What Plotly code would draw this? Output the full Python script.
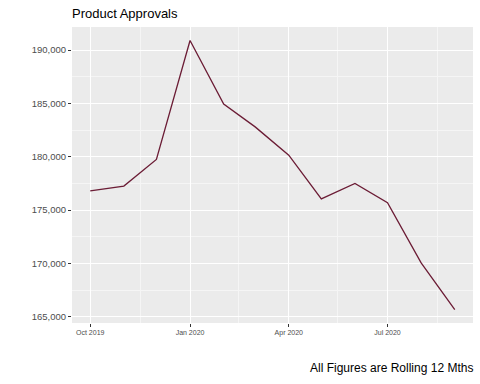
import plotly.graph_objects as go
import pandas as pd

months = ["2019-10-01", "2019-11-01", "2019-12-01", "2020-01-01", "2020-02-01", "2020-03-01",
          "2020-04-01", "2020-05-01", "2020-06-01", "2020-07-01", "2020-08-01", "2020-09-01"]
approvals = [176800, 177250, 179750, 190900, 184950, 182800,
             180150, 176050, 177500, 175700, 170050, 165680]

x_tick_vals = ["2019-10-01", "2020-01-01", "2020-04-01", "2020-07-01"]
x_tick_text = ["Oct 2019", "Jan 2020", "Apr 2020", "Jul 2020"]
y_tick_vals = [165000, 170000, 175000, 180000, 185000, 190000]

title_text = "Product Approvals"
caption_text = "All Figures are Rolling 12 Mths"

# derived
dates = pd.to_datetime(months)
xt = pd.to_datetime(x_tick_vals + ["2020-10-01"])
x_minor = [(xt[i] + (xt[i + 1] - xt[i]) / 2).strftime("%Y-%m-%d") for i in range(len(xt) - 1)]
y_minor = [(y_tick_vals[i] + y_tick_vals[i + 1]) / 2 for i in range(len(y_tick_vals) - 1)]

span_x = dates.max() - dates.min()
x_range = [dates.min() - span_x * 0.05, dates.max() + span_x * 0.05]
span_y = max(approvals) - min(approvals)
y_range = [min(approvals) - span_y * 0.05, max(approvals) + span_y * 0.05]

fig = go.Figure()
fig.add_trace(go.Scatter(x=dates, y=approvals, mode="lines",
                         line=dict(color="#6B1C35", width=1.3), showlegend=False))

fig.update_layout(
    width=480, height=384,
    margin=dict(l=72, r=7, t=27, b=61),
    paper_bgcolor="white", plot_bgcolor="#EBEBEB",
    font=dict(family="Liberation Sans, Arial, sans-serif"),
    annotations=[
        dict(text=title_text, xref="paper", yref="paper", x=0, y=1, yshift=4, xshift=-2,
             xanchor="left", yanchor="bottom", showarrow=False,
             font=dict(size=13, color="black")),
        dict(text=caption_text, xref="paper", yref="paper", x=1, y=0, yshift=-36, xshift=2,
             xanchor="right", yanchor="top", showarrow=False,
             font=dict(size=12, color="black")),
    ],
)
fig.update_xaxes(
    range=x_range, tickmode="array", tickvals=x_tick_vals, ticktext=x_tick_text,
    showgrid=True, gridcolor="white", gridwidth=1.1,
    ticks="outside", ticklen=3, tickcolor="#333333", tickwidth=1,
    tickfont=dict(size=7, color="#4D4D4D"),
    minor=dict(tickmode="array", tickvals=x_minor, showgrid=True, gridcolor="#F5F5F5",
               gridwidth=0.6, ticks=""),
    zeroline=False, showline=False,
)
fig.update_yaxes(
    range=y_range, tickmode="array", tickvals=y_tick_vals, tickformat=",d",
    showgrid=True, gridcolor="white", gridwidth=1.1,
    ticks="outside", ticklen=3, tickcolor="#333333", tickwidth=1,
    tickfont=dict(size=9.5, color="#4D4D4D"),
    minor=dict(tickmode="array", tickvals=y_minor, showgrid=True, gridcolor="#F5F5F5",
               gridwidth=0.6, ticks=""),
    zeroline=False, showline=False,
)

fig.write_html("out.html", config={"displayModeBar": False},
               post_script="document.body.style.margin='0';")
